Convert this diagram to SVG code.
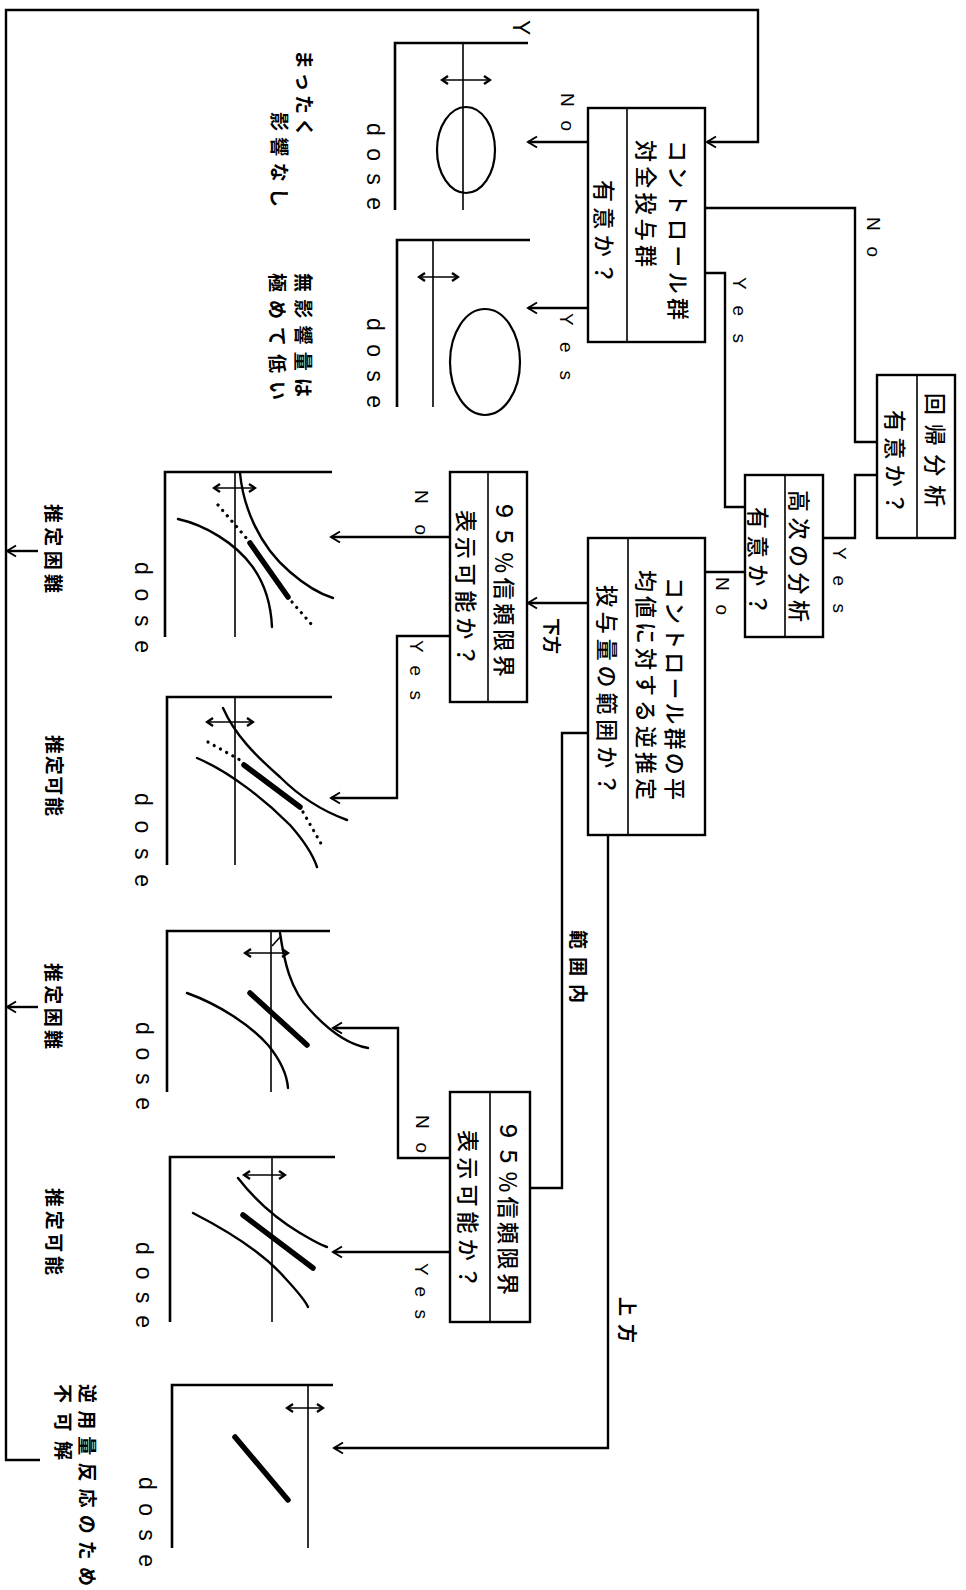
<svg xmlns="http://www.w3.org/2000/svg" width="966" height="1590" viewBox="0 0 966 1590">
<style>
.ln{stroke:#000;stroke-width:2.4;fill:none}
.ax{stroke:#000;stroke-width:2.6;fill:none}
.mn{stroke:#000;stroke-width:1.6;fill:none}
.cv{stroke:#000;stroke-width:2.4;fill:none;stroke-linecap:round}
.tk{stroke:#000;stroke-width:5.5;fill:none;stroke-linecap:round}
.dt{stroke:#000;stroke-width:3.2;fill:none;stroke-linecap:round;stroke-dasharray:0.1 7}
.box{fill:#fff;stroke:#000;stroke-width:2.4}
.jp{font-family:"Noto Sans CJK JP","Noto Sans CJK SC",sans-serif;font-size:22px;font-weight:500;fill:#000}
.js{font-family:"Noto Sans CJK JP","Noto Sans CJK SC",sans-serif;font-size:19px;font-weight:700;fill:#000}
.la{font-family:"Liberation Sans",Arial,sans-serif;font-size:19px;fill:#000}
.ds{font-family:"Liberation Sans",Arial,sans-serif;font-size:23px;fill:#000}
</style>
<defs>
<marker id="ah" viewBox="-12 -7 14 14" refX="0" refY="0" markerWidth="14" markerHeight="14" markerUnits="userSpaceOnUse" orient="auto"><path d="M-9,-5.5 L0,0 L-9,5.5" fill="none" stroke="#000" stroke-width="2"/></marker>
<marker id="dh" viewBox="-9 -6 11 12" refX="0" refY="0" markerWidth="11" markerHeight="12" markerUnits="userSpaceOnUse" orient="auto-start-reverse"><path d="M-6,-4 L0,0 L-6,4" fill="none" stroke="#000" stroke-width="2.4"/></marker>
</defs>

<g id="connectors">
<path class="ln" d="M40,1460 H6 V10 H758 V142 H707" marker-end="url(#ah)"/>
<path class="ln" d="M38,551 H7" marker-end="url(#ah)"/>
<path class="ln" d="M38,1007 H7" marker-end="url(#ah)"/>
<path class="ln" d="M588,142 H528" marker-end="url(#ah)"/>
<path class="ln" d="M588,308 H528" marker-end="url(#ah)"/>
<path class="ln" d="M705,208 H855 V442 H877"/>
<path class="ln" d="M705,273 H725 V507 H745"/>
<path class="ln" d="M877,475 H855 V538 H823"/>
<path class="ln" d="M745,572 H705"/>
<path class="ln" d="M588,603 H528" marker-end="url(#ah)"/>
<path class="ln" d="M450,537 H331" marker-end="url(#ah)"/>
<path class="ln" d="M450,636 H397 V798 H331" marker-end="url(#ah)"/>
<path class="ln" d="M588,733 H562 V1188 H530"/>
<path class="ln" d="M608,835 V1448 H334" marker-end="url(#ah)"/>
<path class="ln" d="M450,1158 H398 V1028 H333" marker-end="url(#ah)"/>
<path class="ln" d="M450,1252 H333" marker-end="url(#ah)"/>
<text class="la" transform="translate(567,93) rotate(90)" dominant-baseline="central" textLength="38" lengthAdjust="spacing">No</text>
<text class="la" transform="translate(566,313) rotate(90)" dominant-baseline="central" textLength="67" lengthAdjust="spacing">Yes</text>
<text class="la" transform="translate(873,217) rotate(90)" dominant-baseline="central" textLength="40" lengthAdjust="spacing">No</text>
<text class="la" transform="translate(739,277) rotate(90)" dominant-baseline="central" textLength="66" lengthAdjust="spacing">Yes</text>
<text class="la" transform="translate(839,547) rotate(90)" dominant-baseline="central" textLength="66" lengthAdjust="spacing">Yes</text>
<text class="la" transform="translate(722,577) rotate(90)" dominant-baseline="central" textLength="38" lengthAdjust="spacing">No</text>
<text class="la" transform="translate(421,490) rotate(90)" dominant-baseline="central" textLength="45" lengthAdjust="spacing">No</text>
<text class="la" transform="translate(416,640) rotate(90)" dominant-baseline="central" textLength="60" lengthAdjust="spacing">Yes</text>
<text class="la" transform="translate(422,1115) rotate(90)" dominant-baseline="central" textLength="38" lengthAdjust="spacing">No</text>
<text class="la" transform="translate(421,1263) rotate(90)" dominant-baseline="central" textLength="56" lengthAdjust="spacing">Yes</text>
<text class="js" transform="translate(553,618) rotate(90)" dominant-baseline="central" style="font-size:18px">下方</text>
<text class="js" transform="translate(579,930) rotate(90)" dominant-baseline="central" textLength="73" lengthAdjust="spacing">範囲内</text>
<text class="js" transform="translate(628,1297) rotate(90)" dominant-baseline="central" textLength="46" lengthAdjust="spacing">上方</text>
</g>

<g id="node-control-vs-all">
<rect class="box" x="588" y="108" width="117" height="234"/>
<line class="mn" x1="627" y1="108" x2="627" y2="342"/>
<text class="jp" transform="translate(680,140) rotate(90)" dominant-baseline="central" textLength="180" lengthAdjust="spacing">コントロール群</text>
<text class="jp" transform="translate(648,140) rotate(90)" dominant-baseline="central" textLength="127" lengthAdjust="spacing">対全投与群</text>
<text class="jp" transform="translate(606,180) rotate(90)" dominant-baseline="central" textLength="104" lengthAdjust="spacing">有意か？</text>
</g>

<g id="node-regression">
<rect class="box" x="877" y="375" width="78" height="163"/>
<line class="mn" x1="917" y1="375" x2="917" y2="538"/>
<text class="jp" transform="translate(937,393) rotate(90)" dominant-baseline="central" textLength="114" lengthAdjust="spacing">回帰分析</text>
<text class="jp" transform="translate(897,410) rotate(90)" dominant-baseline="central" textLength="104" lengthAdjust="spacing">有意か？</text>
</g>

<g id="node-higher-order">
<rect class="box" x="745" y="475" width="78" height="162"/>
<line class="mn" x1="785" y1="475" x2="785" y2="637"/>
<text class="jp" transform="translate(801,490) rotate(90)" dominant-baseline="central" textLength="132" lengthAdjust="spacing">高次の分析</text>
<text class="jp" transform="translate(760,507) rotate(90)" dominant-baseline="central" textLength="108" lengthAdjust="spacing">有意か？</text>
</g>

<g id="node-inverse-estimate">
<rect class="box" x="588" y="538" width="117" height="297"/>
<line class="mn" x1="628" y1="538" x2="628" y2="835"/>
<text class="jp" transform="translate(677,577) rotate(90)" dominant-baseline="central" textLength="223" lengthAdjust="spacing">コントロール群の平</text>
<text class="jp" transform="translate(648,570) rotate(90)" dominant-baseline="central" textLength="230" lengthAdjust="spacing">均値に対する逆推定</text>
<text class="jp" transform="translate(609,585) rotate(90)" dominant-baseline="central" textLength="210" lengthAdjust="spacing">投与量の範囲か？</text>
</g>

<g id="node-ci-lower">
<rect class="box" x="450" y="472" width="77" height="230"/>
<line class="mn" x1="488" y1="472" x2="488" y2="702"/>
<text class="jp" transform="translate(506,500) rotate(90)" dominant-baseline="central" textLength="177" lengthAdjust="spacing">９５％信頼限界</text>
<text class="jp" transform="translate(468,510) rotate(90)" dominant-baseline="central" textLength="156" lengthAdjust="spacing">表示可能か？</text>
</g>

<g id="node-ci-inside">
<rect class="box" x="450" y="1092" width="80" height="230"/>
<line class="mn" x1="490" y1="1092" x2="490" y2="1322"/>
<text class="jp" transform="translate(510,1120) rotate(90)" dominant-baseline="central" textLength="175" lengthAdjust="spacing">９５％信頼限界</text>
<text class="jp" transform="translate(470,1130) rotate(90)" dominant-baseline="central" textLength="158" lengthAdjust="spacing">表示可能か？</text>
</g>

<g id="chart-no-effect">
<path class="ax" d="M528,43 H395 V210"/>
<path class="mn" d="M463,43 V210"/>
<ellipse cx="466" cy="150" rx="29" ry="43" fill="none" stroke="#000" stroke-width="2.2"/>
<path class="mn" d="M442,80 H490" marker-start="url(#dh)" marker-end="url(#dh)"/>
<text class="la" transform="translate(521,20) rotate(90)" dominant-baseline="central" style="font-size:23px">Y</text>
<text class="ds" transform="translate(375,123) rotate(90)" dominant-baseline="central" textLength="87" lengthAdjust="spacing">dose</text>
<text class="js" transform="translate(305,50) rotate(90)" dominant-baseline="central" textLength="87" lengthAdjust="spacing">まったく</text>
<text class="js" transform="translate(280,112) rotate(90)" dominant-baseline="central" textLength="95" lengthAdjust="spacing">影響なし</text>
</g>

<g id="chart-noel-low">
<path class="ax" d="M530,240 H397 V407"/>
<path class="mn" d="M433,240 V407"/>
<ellipse cx="485" cy="362" rx="35" ry="53" fill="none" stroke="#000" stroke-width="2.2"/>
<path class="mn" d="M419,277 H458" marker-start="url(#dh)" marker-end="url(#dh)"/>
<text class="ds" transform="translate(375,318) rotate(90)" dominant-baseline="central" textLength="90" lengthAdjust="spacing">dose</text>
<text class="js" transform="translate(304,273) rotate(90)" dominant-baseline="central" textLength="124" lengthAdjust="spacing">無影響量は</text>
<text class="js" transform="translate(278,273) rotate(90)" dominant-baseline="central" textLength="127" lengthAdjust="spacing">極めて低い</text>
</g>

<g id="chart-lower-difficult">
<path class="ax" d="M332,472 H165 V637"/>
<path class="mn" d="M235,472 V637"/>
<path class="mn" d="M214,488 H255" marker-start="url(#dh)" marker-end="url(#dh)"/>
<path class="cv" d="M240,473 C243,505 258,545 290,572 C305,585 320,594 333,598"/>
<path class="cv" d="M178,519 C205,525 235,543 252,566 C266,585 271,605 272,627"/>
<path class="dt" d="M218,505 L248,540"/>
<path class="tk" d="M250,543 L288,597"/>
<path class="dt" d="M292,602 L312,625"/>
<text class="ds" transform="translate(143,562) rotate(90)" dominant-baseline="central" textLength="91" lengthAdjust="spacing">dose</text>
<text class="js" transform="translate(54,504) rotate(90)" dominant-baseline="central" textLength="89" lengthAdjust="spacing">推定困難</text>
</g>

<g id="chart-lower-possible">
<path class="ax" d="M332,697 H167 V865"/>
<path class="mn" d="M235,697 V865"/>
<path class="mn" d="M207,722 H253" marker-start="url(#dh)" marker-end="url(#dh)"/>
<path class="cv" d="M223,708 C235,735 255,755 280,777 C300,797 325,812 347,820"/>
<path class="cv" d="M197,758 C230,772 265,800 290,825 C305,842 313,855 317,867"/>
<path class="dt" d="M208,742 L240,760"/>
<path class="tk" d="M244,765 L300,807"/>
<path class="dt" d="M303,812 L323,847"/>
<text class="ds" transform="translate(143,793) rotate(90)" dominant-baseline="central" textLength="94" lengthAdjust="spacing">dose</text>
<text class="js" transform="translate(55,735) rotate(90)" dominant-baseline="central" textLength="81" lengthAdjust="spacing">推定可能</text>
</g>

<g id="chart-inside-difficult">
<path class="ax" d="M330,931 H167 V1092"/>
<path class="mn" d="M271,931 V1092"/>
<path class="mn" d="M245,953 H288" marker-start="url(#dh)" marker-end="url(#dh)"/>
<path class="cv" d="M280,933 C284,960 290,990 310,1010 C330,1032 350,1045 368,1048"/>
<path class="mn" d="M272,946 L281,936"/>
<path class="cv" d="M187,993 C220,1005 250,1025 268,1045 C282,1062 287,1075 288,1088"/>
<path class="tk" d="M250,993 L307,1045"/>
<text class="ds" transform="translate(144,1022) rotate(90)" dominant-baseline="central" textLength="88" lengthAdjust="spacing">dose</text>
<text class="js" transform="translate(54,963) rotate(90)" dominant-baseline="central" textLength="86" lengthAdjust="spacing">推定困難</text>
</g>

<g id="chart-inside-possible">
<path class="ax" d="M335,1157 H170 V1322"/>
<path class="mn" d="M272,1157 V1322"/>
<path class="mn" d="M244,1175 H285" marker-start="url(#dh)" marker-end="url(#dh)"/>
<path class="cv" d="M238,1178 C255,1200 275,1218 300,1233 C312,1240 320,1245 327,1247"/>
<path class="cv" d="M193,1213 C230,1232 265,1255 285,1278 C298,1292 305,1300 308,1307"/>
<path class="tk" d="M243,1215 L313,1268"/>
<text class="ds" transform="translate(144,1242) rotate(90)" dominant-baseline="central" textLength="86" lengthAdjust="spacing">dose</text>
<text class="js" transform="translate(55,1188) rotate(90)" dominant-baseline="central" textLength="87" lengthAdjust="spacing">推定可能</text>
</g>

<g id="chart-upper-reverse">
<path class="ax" d="M333,1385 H172 V1548"/>
<path class="mn" d="M308,1385 V1548"/>
<path class="mn" d="M287,1408 H323" marker-start="url(#dh)" marker-end="url(#dh)"/>
<path class="tk" d="M235,1437 L288,1500"/>
<text class="ds" transform="translate(147,1477) rotate(90)" dominant-baseline="central" textLength="90" lengthAdjust="spacing">dose</text>
<text class="js" transform="translate(88,1384) rotate(90)" dominant-baseline="central" textLength="202" lengthAdjust="spacing">逆用量反応のため</text>
<text class="js" transform="translate(64,1384) rotate(90)" dominant-baseline="central" textLength="76" lengthAdjust="spacing">不可解</text>
</g>
</svg>
